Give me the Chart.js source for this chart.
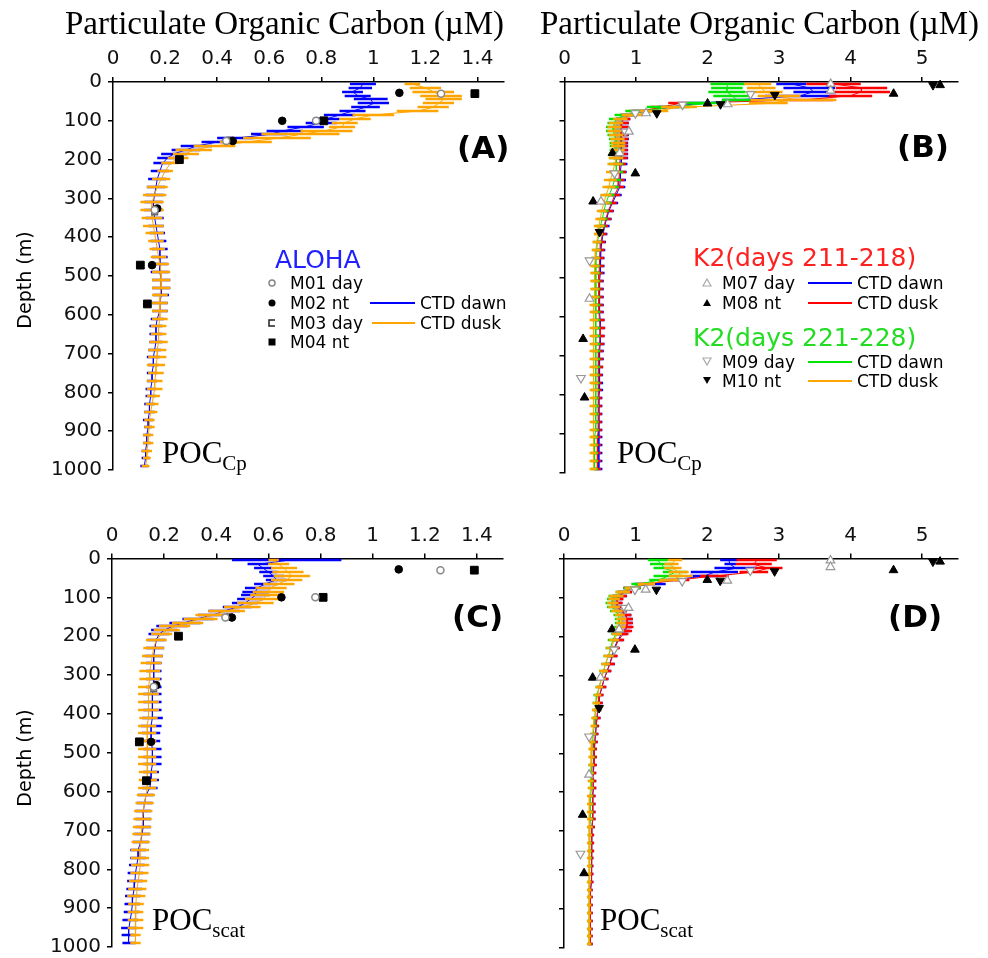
<!DOCTYPE html>
<html>
<head>
<meta charset="utf-8">
<script src="https://cdn.jsdelivr.net/npm/chart.js@4.4.1/dist/chart.umd.min.js"></script>
<style>
  html, body { margin: 0; padding: 0; background: #fff; overflow: hidden; }
  #page { position: relative; width: 988px; height: 958px; overflow: hidden; }
  canvas { position: absolute; }
  .t { position: absolute; white-space: nowrap; line-height: 1; transform: translateY(-50%);
       font-family: 'DejaVu Sans', sans-serif; color: #000; }
  .serif { font-family: 'Liberation Serif', 'Times New Roman', serif; }
  .title { font-size: 33px; }
  .poc { font-size: 31px; }
  .poc span { font-size: 21px; position: relative; top: 7px; }
  .letter { font-size: 31px; font-weight: bold; }
  .head { font-size: 25px; }
  .key { font-size: 17px; }
  .ylab { position: absolute; white-space: nowrap; line-height: 1; font-family: 'DejaVu Sans', sans-serif;
          font-size: 19px; transform: translate(-50%, -50%) rotate(-90deg); }
  #keys { position: absolute; left: 0; top: 0; }
</style>
</head>
<body>
<div id="page">
  <canvas id="chartA" width="510" height="460" style="left:0px;top:28px"></canvas>
  <canvas id="chartB" width="468" height="460" style="left:520px;top:28px"></canvas>
  <canvas id="chartC" width="510" height="460" style="left:0px;top:505px"></canvas>
  <canvas id="chartD" width="468" height="460" style="left:520px;top:505px"></canvas>

  <div class="t serif title" style="left:65px;top:23px">Particulate Organic Carbon (µM)</div>
  <div class="t serif title" style="left:540px;top:23px">Particulate Organic Carbon (µM)</div>

  <div class="ylab" style="left:24px;top:280px">Depth (m)</div>
  <div class="ylab" style="left:24px;top:758px">Depth (m)</div>

  <div class="t letter" style="left:457px;top:147px">(A)</div>
  <div class="t letter" style="left:897px;top:146px">(B)</div>
  <div class="t letter" style="left:452px;top:616px">(C)</div>
  <div class="t letter" style="left:888px;top:616px">(D)</div>

  <div class="t serif poc" style="left:162px;top:452px">POC<span>Cp</span></div>
  <div class="t serif poc" style="left:617px;top:452px">POC<span>Cp</span></div>
  <div class="t serif poc" style="left:152px;top:919px">POC<span>scat</span></div>
  <div class="t serif poc" style="left:600px;top:919px">POC<span>scat</span></div>

  <!-- ALOHA legend -->
  <div class="t head" style="left:275px;top:259px;color:#2020ff">ALOHA</div>
  <div class="t key" style="left:290px;top:283px">M01 day</div>
  <div class="t key" style="left:290px;top:303px">M02 nt</div>
  <div class="t key" style="left:290px;top:323px">M03 day</div>
  <div class="t key" style="left:290px;top:342px">M04 nt</div>
  <div class="t key" style="left:420px;top:303px">CTD dawn</div>
  <div class="t key" style="left:420px;top:323px">CTD dusk</div>

  <!-- K2 legend -->
  <div class="t head" style="left:693px;top:257px;color:#ff2020">K2(days 211-218)</div>
  <div class="t key" style="left:722px;top:283px">M07 day</div>
  <div class="t key" style="left:722px;top:303px">M08 nt</div>
  <div class="t key" style="left:857px;top:283px">CTD dawn</div>
  <div class="t key" style="left:857px;top:303px">CTD dusk</div>
  <div class="t head" style="left:693px;top:337px;color:#22dd22">K2(days 221-228)</div>
  <div class="t key" style="left:722px;top:362px">M09 day</div>
  <div class="t key" style="left:722px;top:381px">M10 nt</div>
  <div class="t key" style="left:857px;top:362px">CTD dawn</div>
  <div class="t key" style="left:857px;top:381px">CTD dusk</div>

  <svg id="keys" width="988" height="958">
    <circle cx="272" cy="283" r="3" fill="#fff" stroke="#888" stroke-width="1.5"/>
    <circle cx="272" cy="303" r="3.5" fill="#000"/>
    <path d="M275 320 H269 V326 H275" fill="none" stroke="#222" stroke-width="1.5"/>
    <rect x="268.5" y="338.5" width="7" height="7" fill="#000"/>
    <line x1="370" y1="303" x2="415" y2="303" stroke="#0000ff" stroke-width="2"/>
    <line x1="372" y1="323" x2="415" y2="323" stroke="#ffa500" stroke-width="2"/>

    <path d="M707 279 L711 286 L703 286 Z" fill="#fff" stroke="#aaa" stroke-width="1.2"/>
    <path d="M707 299 L711 306 L703 306 Z" fill="#000"/>
    <path d="M703 358 L711 358 L707 365 Z" fill="#fff" stroke="#aaa" stroke-width="1.2"/>
    <path d="M703 377 L711 377 L707 384 Z" fill="#000"/>
    <line x1="808" y1="283" x2="852" y2="283" stroke="#0000ff" stroke-width="2"/>
    <line x1="808" y1="303" x2="852" y2="303" stroke="#ff0000" stroke-width="2"/>
    <line x1="808" y1="362" x2="852" y2="362" stroke="#00e600" stroke-width="2"/>
    <line x1="808" y1="381" x2="852" y2="381" stroke="#ffa500" stroke-width="2"/>
  </svg>
</div>

<script>
// Depth of each CTD bin (m)
const DEPTH_M = [
  5, 15, 25, 35, 45, 55, 65, 75, 85, 95,
  105, 115, 125, 135, 145, 155, 165, 175, 185, 195,
  210, 230, 250, 270, 290, 310, 330, 350, 370, 390,
  410, 430, 450, 470, 490, 510, 530, 550, 570, 590,
  610, 630, 650, 670, 690, 710, 730, 750, 770, 790,
  810, 830, 850, 870, 890, 910, 930, 950, 970, 990
];

// Tick labels
const DEPTH_TICKS = [0, 100, 200, 300, 400, 500, 600, 700, 800, 900, 1000];
const ALOHA_TICKS = [0, 0.2, 0.4, 0.6, 0.8, 1, 1.2, 1.4];
const K2_TICKS = [0, 1, 2, 3, 4, 5];

// === ALOHA, POC from beam attenuation (A) ===
const ALOHA_CP_DAWN = [
  0.96, 0.95, 0.92, 0.94, 0.99, 1.0, 0.97, 0.92, 0.87, 0.82,
  0.80, 0.74, 0.66, 0.60, 0.47, 0.40, 0.32, 0.28, 0.235, 0.21,
  0.19, 0.18, 0.17, 0.165, 0.16, 0.155, 0.155, 0.16, 0.165, 0.17,
  0.175, 0.18, 0.18, 0.18, 0.18, 0.185, 0.185, 0.185, 0.18, 0.18,
  0.17, 0.165, 0.165, 0.165, 0.16, 0.155, 0.155, 0.15, 0.15, 0.145,
  0.145, 0.14, 0.14, 0.135, 0.135, 0.13, 0.13, 0.125, 0.125, 0.12
];
const ALOHA_CP_DAWN_SD = [
  0.05, 0.045, 0.04, 0.05, 0.065, 0.06, 0.055, 0.05, 0.06, 0.05,
  0.06, 0.07, 0.07, 0.07, 0.07, 0.06, 0.06, 0.055, 0.05, 0.04,
  0.035, 0.035, 0.035, 0.035, 0.035, 0.035, 0.035, 0.035, 0.03, 0.03,
  0.03, 0.03, 0.03, 0.03, 0.035, 0.035, 0.035, 0.03, 0.03, 0.03,
  0.025, 0.025, 0.025, 0.025, 0.025, 0.025, 0.02, 0.02, 0.02, 0.02,
  0.02, 0.02, 0.02, 0.02, 0.015, 0.015, 0.015, 0.015, 0.015, 0.015
];
const ALOHA_CP_DUSK = [
  1.15, 1.2, 1.23, 1.26, 1.27, 1.25, 1.23, 1.17, 1.0, 0.93,
  0.89, 0.88, 0.82, 0.72, 0.63, 0.51, 0.39, 0.31, 0.28, 0.25,
  0.22, 0.20, 0.185, 0.17, 0.16, 0.15, 0.15, 0.15, 0.155, 0.16,
  0.165, 0.17, 0.175, 0.18, 0.185, 0.185, 0.185, 0.18, 0.18, 0.18,
  0.18, 0.175, 0.175, 0.175, 0.17, 0.17, 0.165, 0.165, 0.16, 0.16,
  0.155, 0.15, 0.145, 0.14, 0.14, 0.135, 0.135, 0.13, 0.13, 0.125
];
const ALOHA_CP_DUSK_SD = [
  0.03, 0.06, 0.08, 0.08, 0.07, 0.06, 0.06, 0.08, 0.08, 0.06,
  0.05, 0.05, 0.1, 0.15, 0.13, 0.1, 0.08, 0.07, 0.05, 0.04,
  0.035, 0.03, 0.035, 0.04, 0.045, 0.045, 0.045, 0.04, 0.04, 0.035,
  0.03, 0.03, 0.03, 0.035, 0.035, 0.035, 0.035, 0.03, 0.03, 0.03,
  0.03, 0.03, 0.03, 0.035, 0.035, 0.035, 0.035, 0.03, 0.03, 0.03,
  0.025, 0.025, 0.025, 0.02, 0.02, 0.02, 0.02, 0.02, 0.015, 0.015
];

// === ALOHA, POC from scattering (C) ===
const ALOHA_SCAT_DAWN = [
  0.67, 0.56, 0.58, 0.60, 0.62, 0.63, 0.59, 0.56, 0.55, 0.55,
  0.53, 0.51, 0.48, 0.43, 0.39, 0.33, 0.28, 0.23, 0.20, 0.18,
  0.17, 0.165, 0.16, 0.16, 0.16, 0.16, 0.16, 0.155, 0.155, 0.155,
  0.155, 0.15, 0.15, 0.15, 0.155, 0.155, 0.155, 0.15, 0.15, 0.145,
  0.13, 0.125, 0.12, 0.12, 0.12, 0.115, 0.11, 0.10, 0.10, 0.095,
  0.09, 0.088, 0.085, 0.08, 0.078, 0.075, 0.07, 0.065, 0.062, 0.065
];
const ALOHA_SCAT_DAWN_SD = [
  0.21, 0.04, 0.035, 0.035, 0.04, 0.04, 0.045, 0.05, 0.05, 0.055,
  0.05, 0.05, 0.055, 0.06, 0.06, 0.06, 0.06, 0.06, 0.05, 0.04,
  0.035, 0.035, 0.035, 0.03, 0.03, 0.03, 0.03, 0.035, 0.035, 0.035,
  0.04, 0.04, 0.035, 0.035, 0.035, 0.035, 0.035, 0.03, 0.03, 0.03,
  0.03, 0.03, 0.03, 0.03, 0.03, 0.03, 0.03, 0.03, 0.03, 0.03,
  0.03, 0.03, 0.03, 0.03, 0.03, 0.03, 0.03, 0.03, 0.025, 0.025
];
const ALOHA_SCAT_DUSK = [
  0.62, 0.64, 0.66, 0.675, 0.69, 0.67, 0.64, 0.61, 0.60, 0.59,
  0.58, 0.55, 0.50, 0.44, 0.39, 0.34, 0.29, 0.24, 0.21, 0.19,
  0.17, 0.16, 0.155, 0.15, 0.145, 0.145, 0.14, 0.14, 0.14, 0.14,
  0.14, 0.135, 0.135, 0.135, 0.135, 0.135, 0.135, 0.138, 0.138, 0.135,
  0.13, 0.125, 0.12, 0.117, 0.115, 0.113, 0.11, 0.107, 0.107, 0.108,
  0.105, 0.1, 0.097, 0.093, 0.092, 0.09, 0.09, 0.09, 0.09, 0.09
];
const ALOHA_SCAT_DUSK_SD = [
  0.02, 0.04, 0.05, 0.06, 0.07, 0.06, 0.06, 0.06, 0.06, 0.06,
  0.07, 0.07, 0.07, 0.07, 0.07, 0.065, 0.06, 0.06, 0.05, 0.04,
  0.04, 0.04, 0.04, 0.04, 0.04, 0.04, 0.04, 0.04, 0.04, 0.04,
  0.035, 0.035, 0.035, 0.035, 0.035, 0.035, 0.035, 0.035, 0.035, 0.035,
  0.035, 0.035, 0.035, 0.035, 0.035, 0.035, 0.035, 0.035, 0.035, 0.035,
  0.035, 0.035, 0.035, 0.035, 0.03, 0.03, 0.03, 0.03, 0.02, 0.02
];

// === K2, POC from beam attenuation (B) ===
const K2A_CP_DAWN = [
  3.17, 3.42, 3.48, 3.3, 2.5, 1.86, 1.45, 1.1, 0.9, 0.82,
  0.8, 0.8, 0.8, 0.8, 0.8, 0.79, 0.79, 0.79, 0.79, 0.79,
  0.79, 0.78, 0.78, 0.77, 0.72, 0.67, 0.62, 0.59, 0.56, 0.54,
  0.52, 0.51, 0.5, 0.5, 0.5, 0.49, 0.49, 0.49, 0.49, 0.49,
  0.5, 0.5, 0.5, 0.5, 0.49, 0.49, 0.49, 0.49, 0.49, 0.49,
  0.48, 0.48, 0.48, 0.48, 0.48, 0.48, 0.48, 0.48, 0.48, 0.48
];
const K2A_CP_DAWN_SD = [
  0.21, 0.36, 0.28, 0.5, 0.3, 0.12, 0.15, 0.15, 0.12, 0.1,
  0.1, 0.1, 0.1, 0.1, 0.1, 0.1, 0.1, 0.1, 0.1, 0.1,
  0.09, 0.09, 0.08, 0.08, 0.08, 0.08, 0.07, 0.07, 0.07, 0.06,
  0.06, 0.06, 0.06, 0.06, 0.06, 0.06, 0.06, 0.06, 0.06, 0.06,
  0.06, 0.06, 0.06, 0.06, 0.06, 0.06, 0.05, 0.05, 0.05, 0.05,
  0.05, 0.05, 0.05, 0.05, 0.05, 0.05, 0.05, 0.05, 0.05, 0.05
];
const K2A_CP_DUSK = [
  3.76, 4.15, 4.15, 4.0, 3.4, 1.6, 1.35, 1.05, 0.9, 0.82,
  0.8, 0.79, 0.79, 0.79, 0.79, 0.78, 0.78, 0.78, 0.78, 0.78,
  0.77, 0.77, 0.76, 0.75, 0.70, 0.66, 0.61, 0.58, 0.55, 0.53,
  0.51, 0.5, 0.49, 0.49, 0.48, 0.48, 0.48, 0.48, 0.48, 0.48,
  0.49, 0.5, 0.5, 0.49, 0.48, 0.48, 0.48, 0.48, 0.47, 0.47,
  0.47, 0.47, 0.47, 0.47, 0.47, 0.46, 0.46, 0.46, 0.46, 0.46
];
const K2A_CP_DUSK_SD = [
  0.38, 0.36, 0.4, 0.3, 0.35, 0.15, 0.15, 0.15, 0.12, 0.1,
  0.1, 0.1, 0.1, 0.1, 0.1, 0.1, 0.1, 0.1, 0.1, 0.1,
  0.09, 0.09, 0.08, 0.08, 0.08, 0.07, 0.07, 0.07, 0.06, 0.06,
  0.06, 0.06, 0.06, 0.06, 0.06, 0.06, 0.06, 0.06, 0.06, 0.06,
  0.07, 0.07, 0.06, 0.06, 0.06, 0.06, 0.06, 0.05, 0.05, 0.05,
  0.05, 0.05, 0.05, 0.05, 0.05, 0.05, 0.05, 0.05, 0.05, 0.05
];
const K2B_CP_DAWN = [
  2.28, 2.27, 2.27, 2.34, 2.4, 2.0, 1.45, 1.1, 0.85, 0.72,
  0.7, 0.68, 0.68, 0.7, 0.72, 0.73, 0.73, 0.73, 0.72, 0.72,
  0.72, 0.72, 0.7, 0.67, 0.62, 0.58, 0.55, 0.53, 0.5, 0.48,
  0.46, 0.45, 0.44, 0.44, 0.44, 0.44, 0.44, 0.44, 0.44, 0.44,
  0.44, 0.44, 0.44, 0.44, 0.44, 0.44, 0.44, 0.43, 0.43, 0.43,
  0.43, 0.43, 0.43, 0.43, 0.43, 0.42, 0.42, 0.42, 0.42, 0.42
];
const K2B_CP_DAWN_SD = [
  0.24, 0.22, 0.26, 0.26, 0.2, 0.3, 0.3, 0.25, 0.15, 0.1,
  0.1, 0.1, 0.1, 0.1, 0.1, 0.1, 0.1, 0.1, 0.1, 0.1,
  0.1, 0.1, 0.09, 0.09, 0.08, 0.08, 0.07, 0.07, 0.07, 0.06,
  0.06, 0.06, 0.06, 0.06, 0.06, 0.06, 0.06, 0.06, 0.06, 0.06,
  0.06, 0.06, 0.06, 0.06, 0.06, 0.06, 0.06, 0.06, 0.06, 0.06,
  0.05, 0.05, 0.05, 0.05, 0.05, 0.05, 0.05, 0.05, 0.05, 0.05
];
const K2B_CP_DUSK = [
  2.7, 2.75, 2.8, 3.0, 3.2, 2.85, 1.6, 1.25, 0.95, 0.78,
  0.72, 0.7, 0.7, 0.72, 0.74, 0.75, 0.75, 0.74, 0.73, 0.72,
  0.7, 0.68, 0.64, 0.62, 0.58, 0.55, 0.52, 0.5, 0.48, 0.47,
  0.45, 0.44, 0.43, 0.42, 0.42, 0.42, 0.42, 0.42, 0.41, 0.41,
  0.41, 0.41, 0.41, 0.41, 0.41, 0.41, 0.41, 0.41, 0.41, 0.41,
  0.4, 0.4, 0.4, 0.4, 0.4, 0.4, 0.4, 0.4, 0.4, 0.4
];
const K2B_CP_DUSK_SD = [
  0.19, 0.2, 0.25, 0.3, 0.6, 0.27, 0.25, 0.2, 0.15, 0.1,
  0.1, 0.1, 0.1, 0.1, 0.1, 0.1, 0.1, 0.1, 0.1, 0.1,
  0.1, 0.1, 0.09, 0.09, 0.08, 0.08, 0.07, 0.07, 0.07, 0.06,
  0.06, 0.06, 0.06, 0.06, 0.06, 0.06, 0.06, 0.06, 0.06, 0.06,
  0.06, 0.06, 0.06, 0.06, 0.06, 0.06, 0.06, 0.06, 0.06, 0.06,
  0.05, 0.05, 0.05, 0.05, 0.05, 0.05, 0.05, 0.05, 0.05, 0.05
];

// === K2, POC from scattering (D) ===
const K2A_SCAT_DAWN = [
  2.3, 2.32, 2.4, 2.1, 1.96, 1.5, 1.2, 0.95, 0.85, 0.78,
  0.74, 0.73, 0.75, 0.8, 0.86, 0.88, 0.88, 0.87, 0.84, 0.8,
  0.75, 0.7, 0.67, 0.64, 0.6, 0.56, 0.53, 0.5, 0.49, 0.47,
  0.46, 0.45, 0.44, 0.43, 0.42, 0.42, 0.41, 0.41, 0.41, 0.41,
  0.40, 0.40, 0.40, 0.40, 0.39, 0.39, 0.39, 0.39, 0.38, 0.38,
  0.38, 0.38, 0.37, 0.37, 0.37, 0.37, 0.37, 0.37, 0.37, 0.37
];
const K2A_SCAT_DAWN_SD = [
  0.12, 0.08, 0.3, 0.33, 0.2, 0.15, 0.22, 0.12, 0.1, 0.1,
  0.08, 0.08, 0.08, 0.08, 0.08, 0.08, 0.08, 0.08, 0.08, 0.08,
  0.08, 0.07, 0.07, 0.07, 0.06, 0.06, 0.06, 0.05, 0.05, 0.05,
  0.05, 0.04, 0.04, 0.04, 0.04, 0.04, 0.04, 0.04, 0.04, 0.04,
  0.04, 0.04, 0.04, 0.04, 0.04, 0.03, 0.03, 0.03, 0.03, 0.03,
  0.03, 0.03, 0.03, 0.03, 0.03, 0.03, 0.03, 0.03, 0.03, 0.03
];
const K2A_SCAT_DUSK = [
  2.69, 2.65, 2.85, 2.65, 2.1, 1.6, 1.15, 0.95, 0.85, 0.78,
  0.75, 0.74, 0.76, 0.8, 0.86, 0.88, 0.88, 0.88, 0.86, 0.82,
  0.76, 0.71, 0.68, 0.64, 0.6, 0.56, 0.53, 0.5, 0.49, 0.47,
  0.46, 0.45, 0.44, 0.43, 0.42, 0.42, 0.42, 0.41, 0.41, 0.41,
  0.40, 0.40, 0.40, 0.40, 0.39, 0.39, 0.39, 0.39, 0.38, 0.38,
  0.38, 0.38, 0.37, 0.37, 0.37, 0.37, 0.37, 0.37, 0.37, 0.37
];
const K2A_SCAT_DUSK_SD = [
  0.28, 0.25, 0.2, 0.2, 0.2, 0.15, 0.12, 0.12, 0.1, 0.1,
  0.08, 0.08, 0.08, 0.08, 0.08, 0.08, 0.08, 0.09, 0.09, 0.08,
  0.08, 0.07, 0.07, 0.07, 0.06, 0.06, 0.06, 0.05, 0.05, 0.05,
  0.05, 0.04, 0.04, 0.04, 0.04, 0.04, 0.04, 0.04, 0.04, 0.04,
  0.04, 0.04, 0.04, 0.04, 0.04, 0.03, 0.03, 0.03, 0.03, 0.03,
  0.03, 0.03, 0.03, 0.03, 0.03, 0.03, 0.03, 0.03, 0.03, 0.03
];
const K2B_SCAT_DAWN = [
  1.31, 1.36, 1.4, 1.55, 1.45, 1.33, 1.07, 0.95, 0.82, 0.72,
  0.68, 0.66, 0.68, 0.72, 0.76, 0.77, 0.77, 0.76, 0.74, 0.72,
  0.68, 0.65, 0.62, 0.58, 0.55, 0.52, 0.49, 0.46, 0.45, 0.44,
  0.43, 0.42, 0.41, 0.4, 0.39, 0.39, 0.38, 0.38, 0.38, 0.38,
  0.37, 0.37, 0.37, 0.37, 0.36, 0.36, 0.36, 0.36, 0.36, 0.36,
  0.35, 0.35, 0.35, 0.35, 0.35, 0.35, 0.35, 0.35, 0.35, 0.35
];
const K2B_SCAT_DAWN_SD = [
  0.14, 0.16, 0.15, 0.17, 0.2, 0.14, 0.13, 0.12, 0.1, 0.1,
  0.08, 0.08, 0.08, 0.08, 0.07, 0.06, 0.06, 0.06, 0.06, 0.06,
  0.07, 0.07, 0.07, 0.06, 0.06, 0.06, 0.05, 0.05, 0.05, 0.05,
  0.04, 0.04, 0.04, 0.04, 0.04, 0.04, 0.04, 0.04, 0.04, 0.04,
  0.04, 0.04, 0.04, 0.04, 0.04, 0.03, 0.03, 0.03, 0.03, 0.03,
  0.03, 0.03, 0.03, 0.03, 0.03, 0.03, 0.03, 0.03, 0.03, 0.03
];
const K2B_SCAT_DUSK = [
  1.55, 1.5, 1.52, 1.6, 1.63, 1.5, 1.15, 0.95, 0.82, 0.73,
  0.7, 0.68, 0.7, 0.74, 0.78, 0.8, 0.8, 0.79, 0.77, 0.74,
  0.7, 0.66, 0.62, 0.58, 0.55, 0.52, 0.49, 0.47, 0.45, 0.44,
  0.42, 0.41, 0.4, 0.39, 0.38, 0.38, 0.38, 0.37, 0.37, 0.37,
  0.36, 0.36, 0.36, 0.36, 0.36, 0.36, 0.35, 0.35, 0.35, 0.35,
  0.35, 0.35, 0.35, 0.35, 0.35, 0.35, 0.35, 0.35, 0.35, 0.35
];
const K2B_SCAT_DUSK_SD = [
  0.1, 0.1, 0.12, 0.14, 0.17, 0.17, 0.12, 0.1, 0.1, 0.1,
  0.08, 0.08, 0.08, 0.08, 0.07, 0.07, 0.07, 0.07, 0.07, 0.07,
  0.07, 0.07, 0.07, 0.06, 0.06, 0.06, 0.05, 0.05, 0.05, 0.05,
  0.04, 0.04, 0.04, 0.04, 0.04, 0.04, 0.04, 0.04, 0.04, 0.04,
  0.04, 0.04, 0.04, 0.04, 0.04, 0.03, 0.03, 0.03, 0.03, 0.03,
  0.03, 0.03, 0.03, 0.03, 0.03, 0.03, 0.03, 0.03, 0.03, 0.03
];

// === Discrete bottle samples (same in both rows) ===
const M01_DAY_POC = [1.26, 0.78, 0.435, 0.16];
const M01_DAY_DEPTH = [30, 100, 152, 330];
const M02_NT_POC = [1.1, 0.65, 0.46, 0.17, 0.15];
const M02_NT_DEPTH = [28, 100, 152, 326, 472];
const M03_DAY_POC = [0.45, 0.16];
const M03_DAY_DEPTH = [150, 335];
const M04_NT_POC = [1.39, 0.81, 0.255, 0.105, 0.132];
const M04_NT_DEPTH = [30, 100, 200, 472, 572];

const M07_DAY_POC = [3.72, 3.72, 2.28, 1.14, 0.9, 0.77, 0.51, 0.35];
const M07_DAY_DEPTH = [5, 22, 57, 80, 127, 182, 306, 555];
const M08_NT_POC = [5.25, 4.6, 2.0, 0.67, 0.99, 0.40, 0.26, 0.28];
const M08_NT_DEPTH = [8, 30, 55, 182, 234, 306, 658, 808];
const M09_DAY_POC = [2.6, 1.65, 0.99, 0.85, 0.7, 0.35, 0.23];
const M09_DAY_DEPTH = [31, 58, 80, 127, 234, 457, 758];
const M10_NT_POC = [5.15, 2.94, 2.18, 1.29, 0.49];
const M10_NT_DEPTH = [8, 33, 57, 80, 384];

const BLUE = '#0000ff';
const ORANGE = '#ffa500';
const RED = '#ff0000';
const GREEN = '#00e600';

Chart.defaults.font.family = "'DejaVu Sans', sans-serif";

// Horizontal error bars for each CTD bin
const errorBars = {
  id: 'errorBars',
  afterDatasetDraw(chart, args) {
    const ds = chart.data.datasets[args.index];
    if (!ds.errX) return;
    const { ctx, scales: { x, y } } = chart;
    ctx.save();
    ctx.strokeStyle = ds.borderColor;
    ctx.lineWidth = 2.5;
    ds.data.forEach((p, i) => {
      const e = ds.errX[i];
      const py = Math.round(y.getPixelForValue(p.y));
      ctx.beginPath();
      ctx.moveTo(x.getPixelForValue(p.x - e), py);
      ctx.lineTo(x.getPixelForValue(p.x + e), py);
      ctx.stroke();
    });
    ctx.restore();
  }
};

function profile(label, vals, sd, color, order) {
  return {
    type: 'line',
    label: label,
    order: order,
    data: DEPTH_M.map((d, i) => ({ x: vals[i], y: d })),
    errX: sd,
    borderColor: color,
    borderWidth: 1,
    pointRadius: 0,
    tension: 0,
    fill: false,
    clip: false
  };
}

function samples(label, poc, depth, style) {
  return Object.assign({
    type: 'scatter',
    label: label,
    order: 0,
    clip: false,
    data: poc.map((v, i) => ({ x: v, y: depth[i] }))
  }, style);
}

const DAY_CIRCLE = { pointStyle: 'circle', pointRadius: 3.5, backgroundColor: '#fff', borderColor: '#888', borderWidth: 1.5 };
const NT_CIRCLE = { pointStyle: 'circle', pointRadius: 3.8, backgroundColor: '#000', borderColor: '#000', borderWidth: 1 };
const DAY_RECT = { pointStyle: 'rect', pointRadius: 4, backgroundColor: '#fff', borderColor: '#666', borderWidth: 1.5 };
const NT_RECT = { pointStyle: 'rect', pointRadius: 5.5, backgroundColor: '#000', borderColor: '#000', borderWidth: 1 };
const DAY_TRI = { pointStyle: 'triangle', pointRadius: 5, backgroundColor: '#fff', borderColor: '#999', borderWidth: 1.2 };
const NT_TRI = { pointStyle: 'triangle', pointRadius: 5, backgroundColor: '#000', borderColor: '#000', borderWidth: 1 };
const DAY_TRI_DOWN = Object.assign({}, DAY_TRI, { rotation: 180 });
const NT_TRI_DOWN = Object.assign({}, NT_TRI, { rotation: 180 });

function alohaSamples() {
  return [
    samples('M01 day', M01_DAY_POC, M01_DAY_DEPTH, DAY_CIRCLE),
    samples('M02 nt', M02_NT_POC, M02_NT_DEPTH, NT_CIRCLE),
    samples('M03 day', M03_DAY_POC, M03_DAY_DEPTH, DAY_RECT),
    samples('M04 nt', M04_NT_POC, M04_NT_DEPTH, NT_RECT)
  ];
}

function k2Samples() {
  return [
    samples('M07 day', M07_DAY_POC, M07_DAY_DEPTH, DAY_TRI),
    samples('M08 nt', M08_NT_POC, M08_NT_DEPTH, NT_TRI),
    samples('M09 day', M09_DAY_POC, M09_DAY_DEPTH, DAY_TRI_DOWN),
    samples('M10 nt', M10_NT_POC, M10_NT_DEPTH, NT_TRI_DOWN)
  ];
}

const axisLine = { display: true, color: '#000', width: 1.5 };
const tickMarks = { drawOnChartArea: false, drawTicks: true, tickLength: 5, color: '#000', lineWidth: 1.5 };

function makeChart(id, cfg) {
  return new Chart(document.getElementById(id), {
    type: 'scatter',
    data: { datasets: cfg.datasets },
    options: {
      responsive: false,
      animation: false,
      devicePixelRatio: 1,
      events: [],
      layout: { padding: cfg.padding },
      plugins: { legend: { display: false }, tooltip: { enabled: false } },
      scales: {
        x: {
          type: 'linear',
          position: 'top',
          min: 0,
          max: cfg.xMax,
          afterBuildTicks: s => { s.ticks = cfg.xTicks.map(v => ({ value: v })); },
          afterFit: s => { s.height = cfg.axisTop; },
          ticks: { padding: 6, color: '#111', autoSkip: false, maxRotation: 0,
                   font: { size: 20 }, callback: v => String(v) },
          grid: tickMarks,
          border: axisLine
        },
        y: {
          type: 'linear',
          reverse: true,
          min: 0,
          max: 1000,
          afterBuildTicks: s => { s.ticks = DEPTH_TICKS.map(v => ({ value: v })); },
          afterFit: s => { s.width = cfg.axisLeft; },
          ticks: { display: cfg.depthLabels, padding: 6, color: '#111', autoSkip: false,
                   font: { size: 20 }, callback: v => String(v) },
          grid: tickMarks,
          border: axisLine
        }
      }
    },
    plugins: [errorBars]
  });
}

// (A) ALOHA POC_cp
makeChart('chartA', {
  xMax: 1.5, xTicks: ALOHA_TICKS, axisTop: 54, axisLeft: 113, depthLabels: true,
  padding: { left: 0, top: 0, right: 6, bottom: 15.5 },
  datasets: alohaSamples().concat([
    profile('CTD dusk', ALOHA_CP_DUSK, ALOHA_CP_DUSK_SD, ORANGE, 1),
    profile('CTD dawn', ALOHA_CP_DAWN, ALOHA_CP_DAWN_SD, BLUE, 2)
  ])
});

// (B) K2 POC_cp
makeChart('chartB', {
  xMax: 5.5, xTicks: K2_TICKS, axisTop: 54, axisLeft: 44.5, depthLabels: false,
  padding: { left: 0, top: 0, right: 30, bottom: 15.5 },
  datasets: k2Samples().concat([
    profile('CTD dusk 221-228', K2B_CP_DUSK, K2B_CP_DUSK_SD, ORANGE, 1),
    profile('CTD dawn 221-228', K2B_CP_DAWN, K2B_CP_DAWN_SD, GREEN, 2),
    profile('CTD dusk 211-218', K2A_CP_DUSK, K2A_CP_DUSK_SD, RED, 3),
    profile('CTD dawn 211-218', K2A_CP_DAWN, K2A_CP_DAWN_SD, BLUE, 4)
  ])
});

// (C) ALOHA POC_scat
makeChart('chartC', {
  xMax: 1.5, xTicks: ALOHA_TICKS, axisTop: 53.5, axisLeft: 112, depthLabels: true,
  padding: { left: 0, top: 0, right: 7, bottom: 17 },
  datasets: alohaSamples().concat([
    profile('CTD dusk', ALOHA_SCAT_DUSK, ALOHA_SCAT_DUSK_SD, ORANGE, 1),
    profile('CTD dawn', ALOHA_SCAT_DAWN, ALOHA_SCAT_DAWN_SD, BLUE, 2)
  ])
});

// (D) K2 POC_scat
makeChart('chartD', {
  xMax: 5.5, xTicks: K2_TICKS, axisTop: 53.5, axisLeft: 44, depthLabels: false,
  padding: { left: 0, top: 0, right: 30, bottom: 17 },
  datasets: k2Samples().concat([
    profile('CTD dusk 221-228', K2B_SCAT_DUSK, K2B_SCAT_DUSK_SD, ORANGE, 1),
    profile('CTD dawn 221-228', K2B_SCAT_DAWN, K2B_SCAT_DAWN_SD, GREEN, 2),
    profile('CTD dusk 211-218', K2A_SCAT_DUSK, K2A_SCAT_DUSK_SD, RED, 3),
    profile('CTD dawn 211-218', K2A_SCAT_DAWN, K2A_SCAT_DAWN_SD, BLUE, 4)
  ])
});
</script>
</body>
</html>
